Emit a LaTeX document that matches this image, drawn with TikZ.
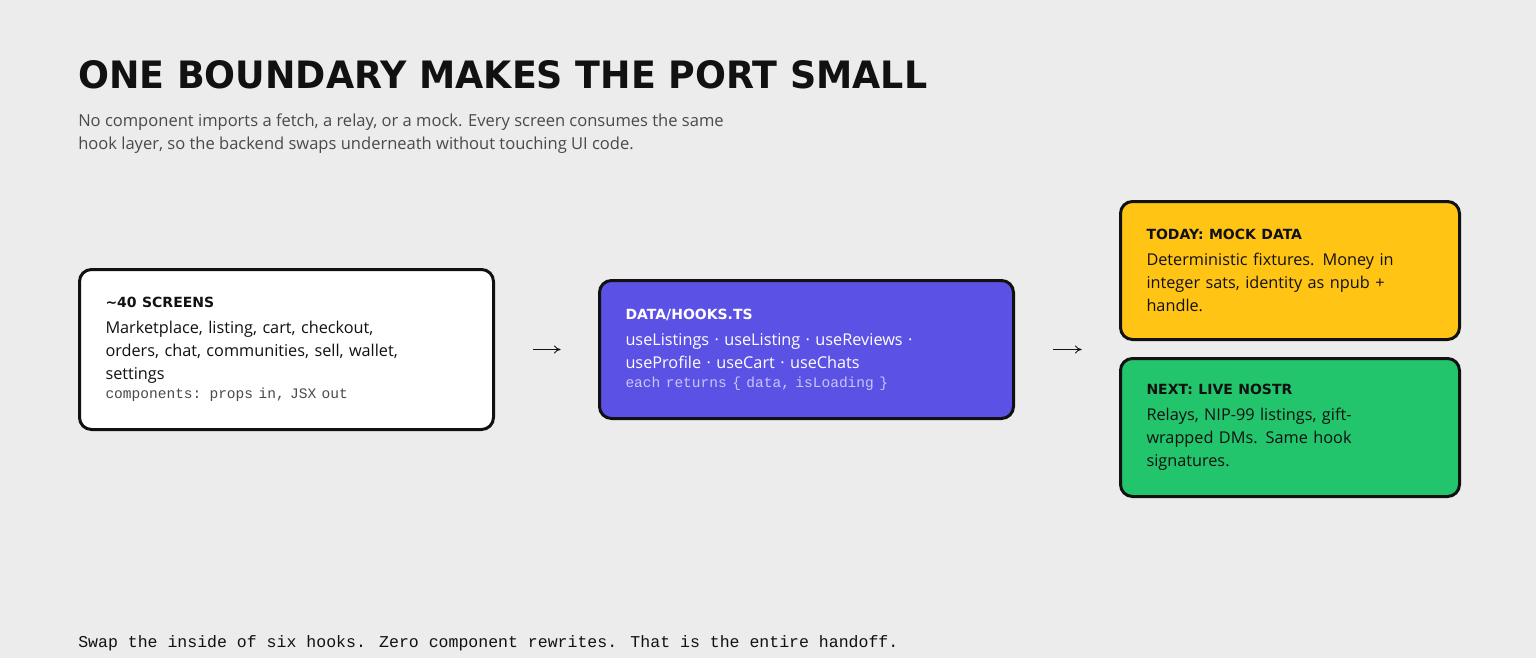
\documentclass[tikz,border=0pt]{standalone}
\usepackage{fontspec}
\setmainfont{Open Sans}
\newfontfamily\headfont{DejaVu Sans}
\newfontfamily\codefont{Liberation Mono}
\usetikzlibrary{positioning,arrows.meta,calc}
\definecolor{bg}{HTML}{ECECEC}
\definecolor{ink}{HTML}{111111}
\definecolor{grey}{HTML}{4A4A4A}
\definecolor{hookblue}{HTML}{5B52E5}
\definecolor{hooklite}{HTML}{C9C5F6}
\definecolor{mockyellow}{HTML}{FFC414}
\definecolor{livegreen}{HTML}{22C46C}
\tikzset{box/.style = {draw=ink, line width=2.25pt, rounded corners=9pt, align=left,
                       inner xsep=19.5pt, inner ysep=0pt, anchor=north west,
                       font=\fontsize{12.2pt}{17.25pt}\selectfont, text=ink}}
\tikzset{flow/.style = {-{To[length=5pt,width=6pt]}, line width=0.7pt, draw=ink,
                        shorten <=28.5pt, shorten >=28pt}}
\newcommand{\boxhead}[1]{{\headfont\bfseries\fontsize{10.5pt}{12pt}\selectfont #1}\\[2pt]}
\newcommand{\codeline}[1]{{\codefont\fontsize{10.9pt}{14pt}\selectfont #1}}
\begin{document}
\begin{tikzpicture}[x=0.75pt, y=-0.75pt]
      \fill [bg] (0, 0) rectangle (1536, 658);
      \useasboundingbox (0, 0) rectangle (1536, 658);

      % heading and intro
      \node (title) at (78, 88) [anchor=base west, inner sep=0pt, text=ink]
        {\resizebox{636.75pt}{21pt}{\headfont\bfseries ONE BOUNDARY MAKES THE PORT SMALL}};
      \node (intro) at (78, 114) [anchor=north west, inner sep=0pt, align=left, text=grey,
        font=\fontsize{12.4pt}{17.25pt}\selectfont]
        {No component imports a fetch, a relay, or a mock. Every screen consumes the same\\
         hook layer, so the backend swaps underneath without touching UI code.};

      % the three layers
      \node (screens) at (78, 268) [box, fill=white, text width=271.5pt, minimum height=120pt]
        {\boxhead{\textasciitilde 40 SCREENS}
         Marketplace, listing, cart, checkout,\\
         orders, chat, communities, sell, wallet,\\
         settings\\[-3pt]
         \textcolor{grey}{\codeline{components: props in, JSX out}}};
      \node (hooks) at (598, 279) [box, fill=hookblue, text=white, text width=271.5pt, minimum height=103.5pt]
        {\boxhead{DATA/HOOKS.TS}
         useListings · useListing · useReviews ·\\
         useProfile · useCart · useChats\\[-3pt]
         \textcolor{hooklite}{\codeline{each returns \{ data, isLoading \}}}};
      \node (today) at (1119, 200) [box, fill=mockyellow, text width=215.25pt, minimum height=103.5pt]
        {\boxhead{TODAY: MOCK DATA}
         Deterministic fixtures. Money in\\
         integer sats, identity as npub +\\
         handle.};
      \node (next) at (1119, 357) [box, fill=livegreen, text width=215.25pt, minimum height=103.5pt]
        {\boxhead{NEXT: LIVE NOSTR}
         Relays, NIP-99 listings, gift-\\
         wrapped DMs. Same hook\\
         signatures.};
      \coordinate (backend) at ($(today.south west)!0.5!(next.north west)$);

      \draw [flow] (screens) -- (hooks);
      \draw [flow] (hooks.east) -- (backend |- hooks.east);

      \node (footer) at (78, 647) [anchor=base west, inner sep=0pt, text=ink,
        font=\codefont\fontsize{12.4pt}{14pt}\selectfont]
        {Swap the inside of six hooks. Zero component rewrites. That is the entire handoff.};
    \end{tikzpicture}
\end{document}
